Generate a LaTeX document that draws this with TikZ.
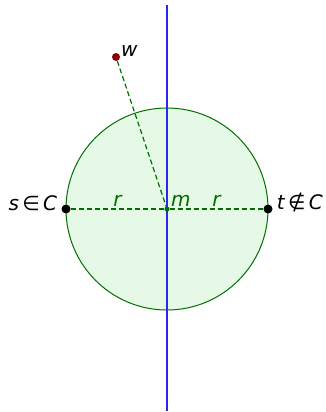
\documentclass[tikz,border=0pt]{standalone}
\usepackage{fontspec}
\setmainfont{DejaVu Sans}
\definecolor{cgreen}{RGB}{0,110,0}
\definecolor{cfill}{RGB}{230,249,230}
\definecolor{cblue}{RGB}{40,40,240}
\definecolor{cred}{RGB}{140,0,0}
\usetikzlibrary{positioning}
\begin{document}
\begin{tikzpicture}[x=1pt,y=-1pt,
  pt/.style={circle,fill=black,inner sep=0pt,minimum size=9pt},
  lbl/.style={font=\fontsize{20}{24}\selectfont\itshape,inner sep=1pt},
  rad/.style={cgreen,line width=1.2pt,dash pattern=on 5pt off 3pt}
]
  \useasboundingbox (0,0) rectangle (325,412);
  % disk
  \node[circle,draw=cgreen,line width=1pt,fill=cfill,minimum size=202pt,inner sep=0pt] (disk) at (167,209) {};
  % axis
  \coordinate (top) at (167,5);
  \coordinate (bot) at (167,411);
  \draw[cblue,line width=1.1pt] (top) -- (bot);
  % points
  \node[circle,fill=cgreen,inner sep=0pt,minimum size=5pt] (m) at (167,209) {};
  \node[pt] (s) at (66,209) {};
  \node[pt] (t) at (268,209) {};
  \node[pt,fill=cred,minimum size=8pt] (w) at (116,57) {};
  % dashed segments
  \draw[rad] (s) -- (m) node[midway,above,lbl,cgreen,yshift=1pt] {r};
  \draw[rad] (m) -- (t) node[midway,above,lbl,cgreen,yshift=1pt] {r};
  \draw[rad] (w) -- (m);
  % labels
  \node[lbl,cgreen,above right=-1pt and 1pt of m] (ml) {m};
  \node[lbl,above right=-4pt and 1pt of w] (wl) {w};
  \node[lbl,left=3pt of s,yshift=6pt] (sl) {s\,{\upshape∈}\,C};
  \node[lbl,right=3pt of t,yshift=6pt] (tl) {t\,{\upshape∉}\,C};
\end{tikzpicture}
\end{document}
